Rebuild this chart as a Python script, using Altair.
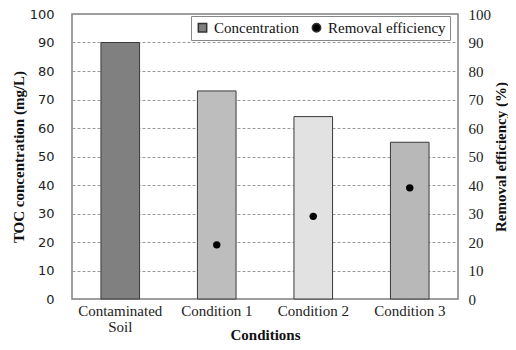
import altair as alt
import pandas as pd

conditions = ["Contaminated Soil", "Condition 1", "Condition 2", "Condition 3"]
concentration = [90, 73, 64, 55]
eff_conditions = ["Condition 1", "Condition 2", "Condition 3"]
removal = [19, 29, 39]
bar_colors = ["#808080", "#bdbdbd", "#e2e2e2", "#b8b8b8"]

bars_df = pd.DataFrame({"cond": conditions, "conc": concentration})
pts_df = pd.DataFrame({"cond": eff_conditions, "eff": removal, "series": ["Removal efficiency"] * 3})

serif = "Liberation Serif"
sans = "DejaVu Sans"

xenc = alt.X(
    "cond:N",
    sort=conditions,
    scale=alt.Scale(paddingInner=0.6, paddingOuter=0.3),
    axis=alt.Axis(
        title="Conditions",
        labelAngle=0,
        labelFont=serif,
        labelFontSize=15,
        labelColor="#222",
        labelPadding=11,
        labelLineHeight=16,
        labelBaseline="middle",
        labelExpr="datum.label == 'Contaminated Soil' ? ['Contaminated', 'Soil'] : datum.label",
        titleFont=serif,
        titleFontSize=15,
        titleFontWeight="bold",
        titleColor="#111",
        titleY=35,
        titleBaseline="middle",
        domain=False,
        ticks=False,
    ),
)

bars = alt.Chart(bars_df).mark_bar(stroke="#3a3a3a", strokeWidth=1).encode(
    x=xenc,
    y=alt.Y(
        "conc:Q",
        scale=alt.Scale(domain=[0, 100]),
        axis=alt.Axis(
            title="TOC concentration (mg/L)",
            values=list(range(0, 101, 10)),
            labelFont=sans,
            labelFontSize=13,
            labelColor="#222",
            titleFont=serif,
            titleFontSize=15,
            titleFontWeight="bold",
            titleColor="#111",
            titleX=-54,
            titleBaseline="middle",
            domain=False,
            ticks=False,
            labelPadding=18,
            grid=True,
            gridColor="#9a9a9a",
            gridDash=[3, 2],
            gridWidth=1,
        ),
    ),
    fill=alt.Fill("cond:N", scale=alt.Scale(domain=conditions, range=bar_colors), legend=None),
)

points = alt.Chart(pts_df).mark_point(filled=True, opacity=1, size=55).encode(
    x=alt.X("cond:N", sort=conditions),
    y=alt.Y(
        "eff:Q",
        scale=alt.Scale(domain=[0, 100]),
        axis=alt.Axis(
            title="Removal efficiency (%)",
            orient="right",
            values=list(range(0, 101, 10)),
            labelFont=serif,
            labelFontSize=15,
            labelColor="#222",
            titleFont=serif,
            titleFontSize=15,
            titleFontWeight="bold",
            titleColor="#111",
            titleAngle=270,
            titleX=42,
            titleBaseline="middle",
            domain=False,
            ticks=False,
            labelPadding=10,
            grid=False,
        ),
    ),
    color=alt.Color(
        "series:N",
        scale=alt.Scale(domain=["Concentration", "Removal efficiency"], range=["#808080", "#000000"]),
        legend=alt.Legend(
            title=None,
            orient="none",
            legendX=119,
            legendY=2,
            direction="horizontal",
            fillColor="white",
            strokeColor="#888",
            padding=4,
            labelFont=serif,
            labelFontSize=15,
            labelColor="#111",
            symbolSize=70,
            columnPadding=10,
            symbolStrokeColor="#333",
            labelOffset=4,
        ),
    ),
    shape=alt.Shape(
        "series:N",
        scale=alt.Scale(domain=["Concentration", "Removal efficiency"], range=["square", "circle"]),
        legend=None,
    ),
)

chart = (
    alt.layer(bars, points)
    .resolve_scale(y="independent")
    .properties(
        width=386,
        height=285,
        autosize=alt.AutoSizeParams(type="none"),
        padding={"left": 64, "top": 6, "right": 50, "bottom": 43},
        background="white",
    )
    .configure_view(stroke="#808080", strokeWidth=1.5)
)

chart.save("out.html", embed_options={"renderer": "svg", "actions": False})
